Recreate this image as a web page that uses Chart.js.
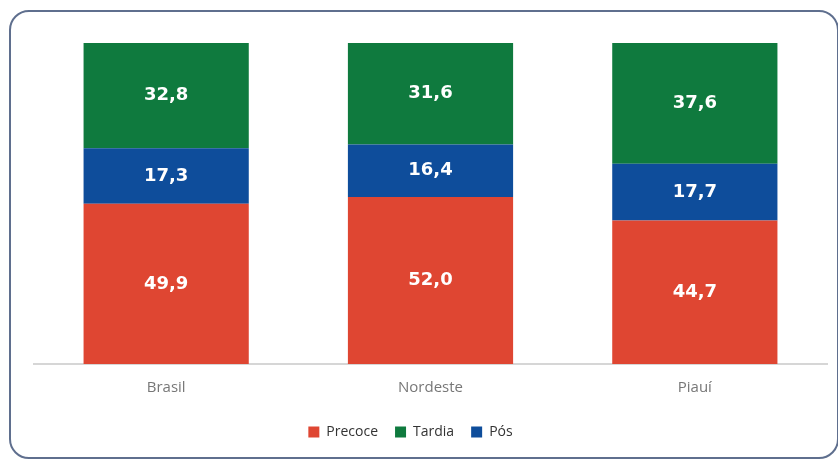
<!DOCTYPE html>
<html>
<head>
<meta charset="utf-8">
<script src="https://cdn.jsdelivr.net/npm/chart.js@4.4.1/dist/chart.umd.min.js"></script>
<style>
  html, body { margin: 0; padding: 0; background: #fff; }
  body { width: 838px; height: 459px; position: relative; overflow: hidden; }
  .frame {
    position: absolute; left: 9px; top: 10px; width: 826px; height: 445px;
    border: 2px solid #5f6f8e; border-radius: 20px;
  }
  #chart { position: absolute; left: 0; top: 0; }
</style>
</head>
<body>
<div class="frame"></div>
<canvas id="chart" width="838" height="459"></canvas>
<script>
// Regions and shares (%) per timing of the onset
const regions = ['Brasil', 'Nordeste', 'Piauí'];
const precoce = [49.9, 52.0, 44.7];
const tardia = [32.8, 31.6, 37.6];
const pos = [17.3, 16.4, 17.7];
const legendOrder = ['Precoce', 'Tardia', 'Pós'];

const fmt = v => v.toFixed(1).replace('.', ',');

// Draws each segment's value in its centre
const segmentLabels = {
  id: 'segmentLabels',
  afterDatasetsDraw(chart) {
    const ctx = chart.ctx;
    ctx.save();
    ctx.fillStyle = '#ffffff';
    ctx.font = 'bold 18px "DejaVu Sans"';
    ctx.textAlign = 'center';
    ctx.textBaseline = 'middle';
    chart.data.datasets.forEach((ds, i) => {
      chart.getDatasetMeta(i).data.forEach((bar, j) => {
        const mid = (bar.y + bar.base) / 2;
        ctx.fillText(fmt(ds.data[j]), bar.x, mid);
      });
    });
    ctx.restore();
  }
};

// Nudge the legend a little left of the plot centre
const legendShift = {
  id: 'legendShift',
  afterLayout(chart) {
    chart.legend.left -= 20;
    chart.legend.right -= 20;
  }
};

const ctx = document.getElementById('chart').getContext('2d');
new Chart(ctx, {
  type: 'bar',
  data: {
    labels: regions,
    // stacked bottom to top: Precoce, Pós, Tardia
    datasets: [
      { label: 'Precoce', data: precoce, backgroundColor: '#df4632' },
      { label: 'Pós', data: pos, backgroundColor: '#0e4d9b' },
      { label: 'Tardia', data: tardia, backgroundColor: '#0f7a3e' }
    ]
  },
  options: {
    responsive: false,
    animation: false,
    layout: { padding: { left: 34, right: 11, top: 43, bottom: 10 } },
    datasets: { bar: { barPercentage: 0.625, categoryPercentage: 1 } },
    scales: {
      x: {
        stacked: true,
        grid: { display: false },
        border: { color: '#d6d6d6', width: 2 },
        ticks: { color: '#777', padding: 7, font: { family: 'Open Sans', size: 15 } },
        afterFit(scale) { scale.height = 44; }
      },
      y: { stacked: true, display: false, min: 0, max: 100 }
    },
    plugins: {
      legend: {
        position: 'bottom',
        labels: {
          boxWidth: 11, boxHeight: 11, padding: 17, color: '#333',
          font: { family: 'Open Sans', size: 14 },
          sort: (a, b) => legendOrder.indexOf(a.text) - legendOrder.indexOf(b.text)
        }
      },
      tooltip: { enabled: false }
    }
  },
  plugins: [segmentLabels, legendShift]
});
</script>
</body>
</html>
